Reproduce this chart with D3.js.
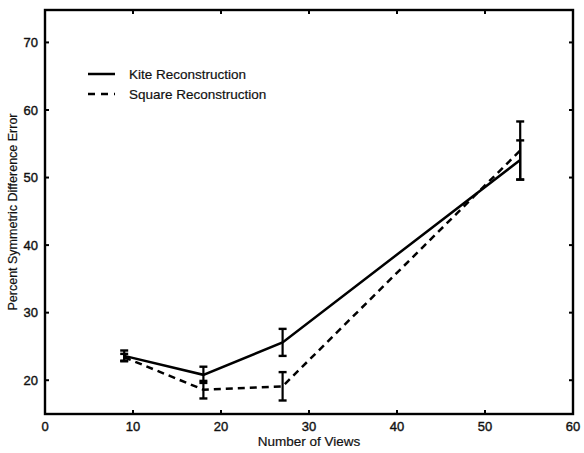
<!DOCTYPE html>
<html lang="en">
<head>
    <meta charset="UTF-8">
    <title>Symmetric Difference Error vs Views</title>
    <script src="https://d3js.org/d3.v7.min.js"></script>
    <style>
        body {
            margin: 0;
            padding: 0;
            background-color: #fff;
        }
        svg {
            display: block;
            font-family: 'Liberation Sans', Arial, sans-serif;
        }
        .tick-label {
            font-size: 13px;
            fill: #111;
            stroke: #111;
            stroke-width: 0.4px;
        }
        .axis-title {
            font-size: 13.5px;
            fill: #111;
            stroke: #111;
            stroke-width: 0.2px;
        }
        .legend-text {
            font-size: 13.5px;
            fill: #111;
            stroke: #111;
            stroke-width: 0.2px;
        }
    </style>
</head>
<body>
    <svg width="584" height="453"></svg>
    <script>
        // data
        const views = [9, 18, 27, 54];
        const kiteMean = [23.6, 20.8, 25.6, 52.6];
        const kiteErr = [0.8, 1.2, 2.0, 2.9];
        const squareMean = [23.4, 18.6, 19.1, 54.0];
        const squareErr = [0.5, 1.3, 2.1, 4.3];
        const xTicks = [0, 10, 20, 30, 40, 50, 60];
        const yTicks = [20, 30, 40, 50, 60, 70];
        const seriesNames = ["Kite Reconstruction", "Square Reconstruction"];

        const width = 584, height = 453;
        const margin = { top: 10, right: 11, bottom: 39, left: 45 };
        const innerW = width - margin.left - margin.right;
        const innerH = height - margin.top - margin.bottom;

        const svg = d3.select("svg");
        const g = svg.append("g").attr("transform", `translate(${margin.left},${margin.top})`);

        const x = d3.scaleLinear().domain([0, 60]).range([0, innerW]);
        const y = d3.scaleLinear().domain([15, 74.8]).range([innerH, 0]);

        // frame
        g.append("rect")
            .attr("width", innerW)
            .attr("height", innerH)
            .attr("fill", "none")
            .attr("stroke", "#000")
            .attr("stroke-width", 2.4);

        // inward ticks on all four sides
        const tl = 4;
        xTicks.slice(1, -1).forEach(t => {
            g.append("line").attr("x1", x(t)).attr("x2", x(t)).attr("y1", innerH).attr("y2", innerH - tl)
                .attr("stroke", "#000").attr("stroke-width", 2);
            g.append("line").attr("x1", x(t)).attr("x2", x(t)).attr("y1", 0).attr("y2", tl)
                .attr("stroke", "#000").attr("stroke-width", 2);
        });
        yTicks.forEach(t => {
            g.append("line").attr("x1", 0).attr("x2", tl).attr("y1", y(t)).attr("y2", y(t))
                .attr("stroke", "#000").attr("stroke-width", 2);
            g.append("line").attr("x1", innerW).attr("x2", innerW - tl).attr("y1", y(t)).attr("y2", y(t))
                .attr("stroke", "#000").attr("stroke-width", 2);
        });

        // tick labels
        g.selectAll(".xl")
            .data(xTicks)
            .enter()
            .append("text")
            .attr("class", "tick-label")
            .attr("x", d => x(d))
            .attr("y", innerH + 17)
            .attr("text-anchor", "middle")
            .text(d => d);

        g.selectAll(".yl")
            .data(yTicks)
            .enter()
            .append("text")
            .attr("class", "tick-label")
            .attr("x", -7)
            .attr("y", d => y(d))
            .attr("dy", "0.35em")
            .attr("text-anchor", "end")
            .text(d => d);

        // axis titles
        g.append("text")
            .attr("class", "axis-title")
            .attr("x", innerW / 2)
            .attr("y", innerH + 32)
            .attr("text-anchor", "middle")
            .text("Number of Views");

        g.append("text")
            .attr("class", "axis-title")
            .attr("transform", `translate(-28,${innerH / 2}) rotate(-90)`)
            .attr("text-anchor", "middle")
            .style("font-size", "12.5px")
            .text("Percent Symmetric Difference Error");

        const line = d3.line().x(d => x(d[0])).y(d => y(d[1]));

        function drawSeries(means, errs, dash) {
            const pts = views.map((v, i) => [v, means[i]]);
            g.append("path")
                .datum(pts)
                .attr("d", line)
                .attr("fill", "none")
                .attr("stroke", "#000")
                .attr("stroke-width", 2.5)
                .attr("stroke-dasharray", dash);

            const cap = 4;
            views.forEach((v, i) => {
                const lo = y(means[i] - errs[i]), hi = y(means[i] + errs[i]);
                g.append("line").attr("x1", x(v)).attr("x2", x(v)).attr("y1", lo).attr("y2", hi)
                    .attr("stroke", "#000").attr("stroke-width", 2.2);
                [lo, hi].forEach(yy => {
                    g.append("line").attr("x1", x(v) - cap).attr("x2", x(v) + cap).attr("y1", yy).attr("y2", yy)
                        .attr("stroke", "#000").attr("stroke-width", 2.4);
                });
            });
        }

        drawSeries(kiteMean, kiteErr, null);
        drawSeries(squareMean, squareErr, "7,5");

        // legend
        const legend = g.append("g").attr("transform", "translate(43,64)");
        seriesNames.forEach((name, i) => {
            legend.append("line")
                .attr("x1", 0).attr("x2", 27)
                .attr("y1", i * 20).attr("y2", i * 20)
                .attr("stroke", "#000")
                .attr("stroke-width", 2.5)
                .attr("stroke-dasharray", i === 0 ? null : "7,6");
            legend.append("text")
                .attr("class", "legend-text")
                .attr("x", 41)
                .attr("y", i * 20)
                .attr("dy", "0.35em")
                .text(name);
        });
    </script>
</body>
</html>
